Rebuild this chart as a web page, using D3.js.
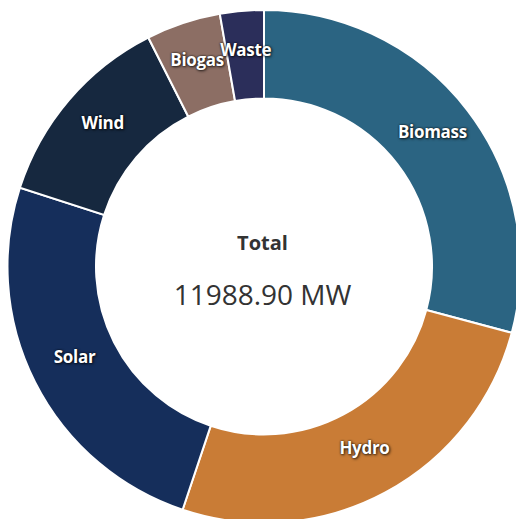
<!DOCTYPE html>
<html>
<head>
<meta charset="utf-8">
<script src="https://cdn.jsdelivr.net/npm/d3@7.9.0/dist/d3.min.js"></script>
<style>
  html, body { margin: 0; padding: 0; background: #fff; }
  svg text { font-family: "Open Sans", "Noto Sans", sans-serif; }
  .slice-label {
    fill: #fff;
    font-weight: bold;
    font-size: 17px;
    letter-spacing: -0.3px;
    text-shadow: 0 0 2px rgba(0,0,0,0.9), 1px 1px 3px rgba(0,0,0,0.7);
  }
</style>
</head>
<body>
<svg id="chart" width="516" height="519"></svg>
<script>
// data (MW)
const categories = ["Biomass", "Hydro", "Solar", "Wind", "Biogas", "Waste"];
const capacity   = [3496.4, 3114.2, 2977.1, 1508.3, 562.6, 330.3];
const colors     = ["#2b6482", "#c97c36", "#152e5b", "#16283f", "#8c6e64", "#2b2e5a"];

const svg = d3.select("#chart");
const cx = 264, cy = 266.5;
const outerR = 256.5, innerR = 168;

const data = categories.map((c, i) => ({ name: c, value: capacity[i], color: colors[i] }));
const total = d3.sum(capacity);

const pie = d3.pie()
    .value(d => d.value)
    .sort(null);

const arc = d3.arc()
    .innerRadius(innerR)
    .outerRadius(outerR);

const g = svg.append("g")
    .attr("transform", `translate(${cx},${cy})`);

const arcs = pie(data);

g.selectAll(".slice")
    .data(arcs)
    .enter()
    .append("path")
    .attr("class", "slice")
    .attr("d", arc)
    .attr("fill", d => d.data.color)
    .attr("stroke", "#fff")
    .attr("stroke-width", 2);

// labels sit on the arc centroid, nudged up a little like the original
g.selectAll(".slice-label")
    .data(arcs)
    .enter()
    .append("text")
    .attr("class", "slice-label")
    .attr("x", d => arc.centroid(d)[0])
    .attr("y", d => arc.centroid(d)[1] - 6)
    .attr("text-anchor", "middle")
    .attr("dominant-baseline", "central")
    .text(d => d.data.name);

// centre text
g.append("text")
    .attr("x", -1.5)
    .attr("y", -17)
    .attr("text-anchor", "middle")
    .attr("fill", "#333")
    .style("font-size", "20px")
    .style("font-weight", "bold")
    .text("Total");

g.append("text")
    .attr("x", -1.5)
    .attr("y", 38)
    .attr("text-anchor", "middle")
    .attr("fill", "#333")
    .style("font-size", "28px")
    .text(`${d3.format(".2f")(total)} MW`);
</script>
</body>
</html>
